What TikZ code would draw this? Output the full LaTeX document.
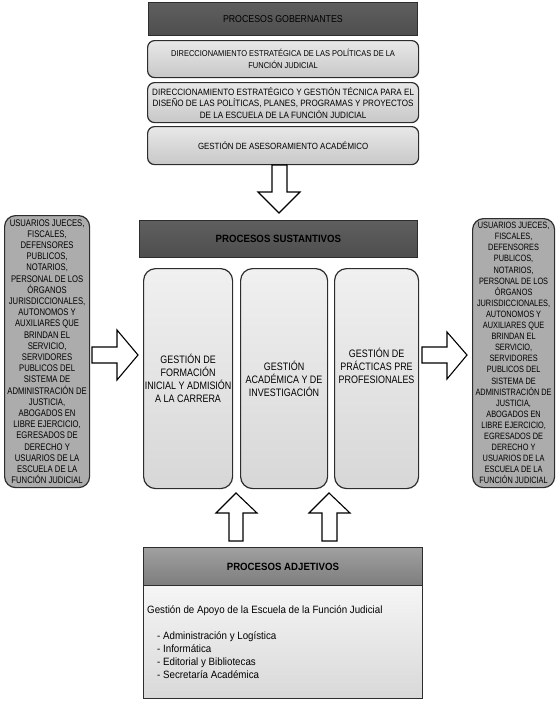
\documentclass[tikz,border=0pt]{standalone}
\usepackage{fontspec}
\setmainfont{Liberation Sans}
\newfontfamily\narrowf[FakeStretch=0.88]{Liberation Sans}
\newfontfamily\sidef[FakeStretch=0.80]{Liberation Sans}
\newfontfamily\condf[FakeStretch=0.83]{Liberation Sans}
\newfontfamily\bodyf[FakeStretch=0.92]{Liberation Sans}
\definecolor{darkbox}{RGB}{78,78,78}
\definecolor{darkboxtop}{RGB}{95,95,95}
\definecolor{sidegray}{RGB}{172,172,172}
\definecolor{lighttop}{RGB}{232,232,232}
\definecolor{lightbot}{RGB}{200,200,200}
\definecolor{coltop}{RGB}{240,240,240}
\definecolor{colbot}{RGB}{215,215,215}
\definecolor{edge}{RGB}{45,45,45}
\definecolor{hdrtop}{RGB}{160,160,160}
\definecolor{hdrbot}{RGB}{125,125,125}
\tikzset{
  darkhdr/.style={draw=edge, line width=0.8pt, top color=darkboxtop, bottom color=darkbox, anchor=north west, inner sep=0pt, align=center},
  govbox/.style={draw=edge, line width=1.2pt, rounded corners=7pt, top color=lighttop, bottom color=lightbot, anchor=north west, inner sep=1pt, align=center, minimum width=271pt},
  sidebox/.style={draw=edge, line width=1.2pt, rounded corners=11pt, fill=sidegray, anchor=north west, inner sep=0pt, align=center, font=\sidef\fontsize{9.6}{11.2}\selectfont},
  colbox/.style={draw=edge, line width=1.2pt, rounded corners=12pt, top color=coltop, bottom color=colbot, anchor=north west, inner sep=0pt, align=center, font=\condf\fontsize{10.8}{13}\selectfont},
  blockarrow/.style={draw=black, line width=1.1pt, fill=white, line join=miter},
}
\begin{document}
\begin{tikzpicture}[x=1pt,y=-1pt]
\useasboundingbox (0,0) rectangle (557,702);
% Governing processes
\node[darkhdr, minimum width=269pt, minimum height=33pt, font=\narrowf\fontsize{10}{11}\selectfont] (gob) at (148,2) {PROCESOS GOBERNANTES};
\node[govbox, minimum height=37pt, font=\narrowf\fontsize{8.5}{12}\selectfont] (g1) at (147,40) {DIRECCIONAMIENTO ESTRATÉGICA DE LAS POLÍTICAS DE LA\\FUNCIÓN JUDICIAL};
\node[govbox, minimum height=40pt, font=\narrowf\fontsize{9.2}{11.5}\selectfont] (g2) at (147,82) {DIRECCIONAMIENTO ESTRATÉGICO Y GESTIÓN TÉCNICA PARA EL\\DISEÑO DE LAS POLÍTICAS, PLANES, PROGRAMAS Y PROYECTOS\\DE LA ESCUELA DE LA FUNCIÓN JUDICIAL};
\node[govbox, minimum height=38pt, font=\narrowf\fontsize{9}{11}\selectfont] (g3) at (147,126) {GESTIÓN DE ASESORAMIENTO ACADÉMICO};
% down arrow
\draw[blockarrow] (272,165) -- (287,165) -- (287,192) -- (300,192) -- (279,213) -- (258,192) -- (272,192) -- cycle;
% Substantive processes
\node[darkhdr, minimum width=278pt, minimum height=37pt, font=\bodyf\fontsize{10.5}{12}\selectfont\bfseries] (sus) at (139,220) {PROCESOS SUSTANTIVOS};
\node[colbox, minimum width=89pt, minimum height=220pt] (c1) at (143,268) {GESTIÓN DE\\FORMACIÓN\\INICIAL Y ADMISIÓN\\A LA CARRERA};
\node[colbox, minimum width=87pt, minimum height=220pt] (c2) at (240,268) {GESTIÓN\\ACADÉMICA Y DE\\INVESTIGACIÓN};
\node[colbox, minimum width=84pt, minimum height=220pt] (c3) at (334,268) {GESTIÓN DE\\PRÁCTICAS PRE\\PROFESIONALES\\[13pt]};
% side boxes
\node[sidebox, minimum width=85pt, minimum height=272pt] (left) at (4,215) {USUARIOS JUECES,\\FISCALES,\\DEFENSORES\\PUBLICOS,\\NOTARIOS,\\PERSONAL DE LOS\\ÓRGANOS\\JURISDICCIONALES,\\AUTONOMOS Y\\AUXILIARES QUE\\BRINDAN EL\\SERVICIO,\\SERVIDORES\\PUBLICOS DEL\\SISTEMA DE\\ADMINISTRACIÓN DE\\JUSTICIA,\\ABOGADOS EN\\LIBRE EJERCICIO,\\EGRESADOS DE\\DERECHO Y\\USUARIOS DE LA\\ESCUELA DE LA\\FUNCIÓN JUDICIAL};
\node[sidebox, minimum width=82pt, minimum height=269pt, font=\sidef\fontsize{9.2}{11.1}\selectfont] (right) at (472,218) {USUARIOS JUECES,\\FISCALES,\\DEFENSORES\\PUBLICOS,\\NOTARIOS,\\PERSONAL DE LOS\\ÓRGANOS\\JURISDICCIONALES,\\AUTONOMOS Y\\AUXILIARES QUE\\BRINDAN EL\\SERVICIO,\\SERVIDORES\\PUBLICOS DEL\\SISTEMA DE\\ADMINISTRACIÓN DE\\JUSTICIA,\\ABOGADOS EN\\LIBRE EJERCICIO,\\EGRESADOS DE\\DERECHO Y\\USUARIOS DE LA\\ESCUELA DE LA\\FUNCIÓN JUDICIAL};
% side arrows
\draw[blockarrow] (92,347) -- (117,347) -- (117,330) -- (138,355) -- (117,380) -- (117,363) -- (92,363) -- cycle;
\draw[blockarrow] (422,347) -- (447,347) -- (447,332) -- (467,355) -- (447,379) -- (447,363) -- (422,363) -- cycle;
% up arrows
\draw[blockarrow] (229,541) -- (229,513) -- (216,513) -- (236,493) -- (257,513) -- (243,513) -- (243,541) -- cycle;
\draw[blockarrow] (322,541) -- (322,513) -- (309,513) -- (329,493) -- (350,513) -- (337,513) -- (337,541) -- cycle;
% Adjective processes
\node[draw=edge, line width=0.8pt, top color=white, bottom color=lightbot!70!white, anchor=north west, minimum width=279pt, minimum height=151pt, inner sep=0pt] (adjbody) at (143,547) {};
\node[draw=edge, line width=0.8pt, top color=hdrtop, bottom color=hdrbot, anchor=north west, minimum width=279pt, minimum height=38pt, inner sep=0pt, font=\bodyf\fontsize{10.5}{12}\selectfont\bfseries] (adj) at (143,547) {PROCESOS ADJETIVOS};
\node[anchor=west, inner sep=0pt, font=\bodyf\fontsize{10.6}{12}\selectfont] (apoyo) at (147,611) {Gestión de Apoyo de la Escuela de la Función Judicial};
\node[anchor=north west, inner sep=0pt, align=left, font=\bodyf\fontsize{10.6}{13.2}\selectfont] (lista) at (157,631) {- Administración y Logística\\- Informática\\- Editorial y Bibliotecas\\- Secretaría Académica};
\end{tikzpicture}
\end{document}
